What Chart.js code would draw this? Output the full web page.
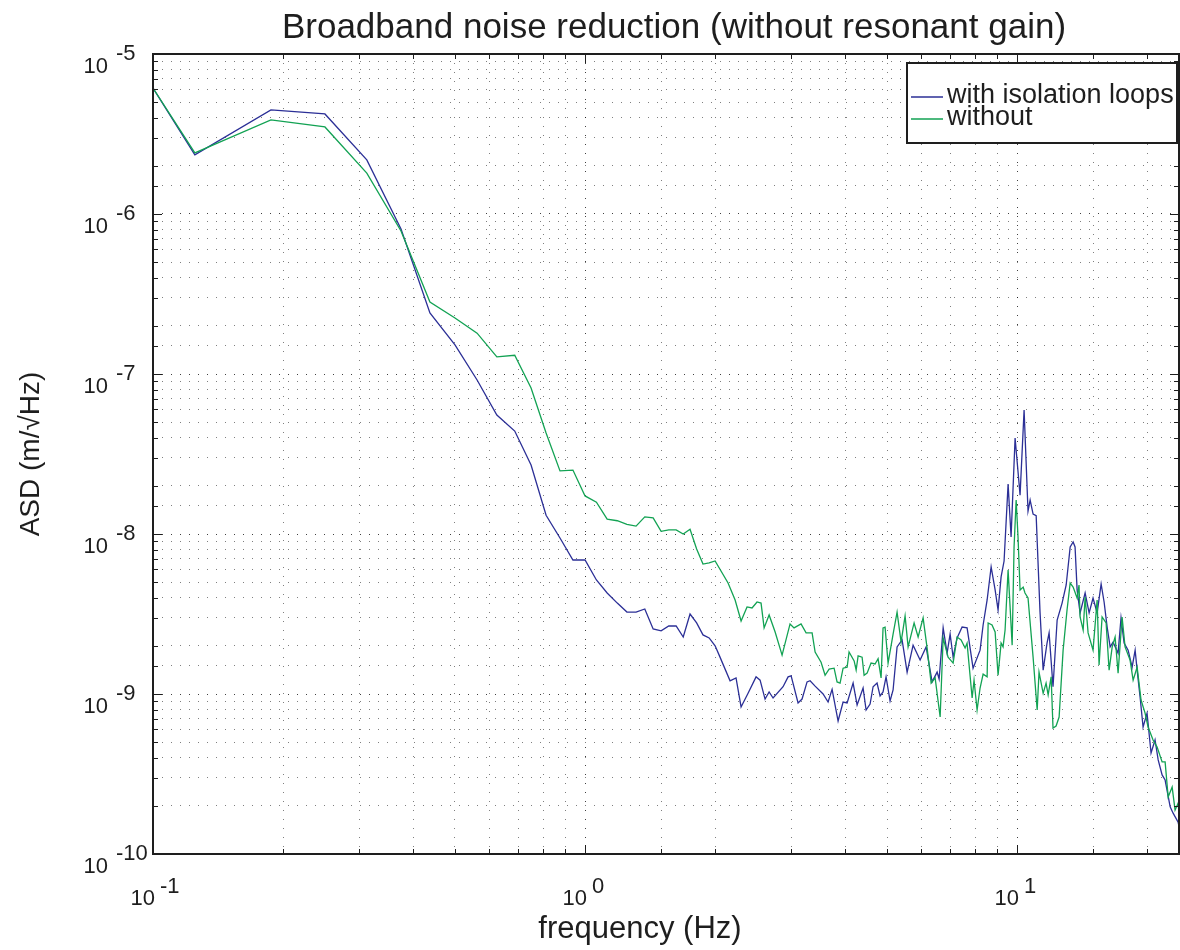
<!DOCTYPE html>
<html>
<head>
<meta charset="utf-8">
<title>Broadband noise reduction</title>
<script src="https://cdn.jsdelivr.net/npm/chart.js@4.4.0/dist/chart.umd.min.js"></script>
<style>
  html, body { margin: 0; padding: 0; background: #fff; }
</style>
</head>
<body>
<canvas id="asdChart" width="1180" height="950"></canvas>
<script>
// Frequency (Hz) and ASD (m/rtHz), per trace
var freqWith = [0.1, 0.125, 0.1875, 0.25, 0.3125, 0.375, 0.4375, 0.5, 0.5625, 0.625, 0.6875, 0.75, 0.8125, 0.875, 0.9375, 1.0,
  1.0625, 1.125, 1.1875, 1.25, 1.3125, 1.375, 1.4375, 1.5, 1.5625, 1.625, 1.6875, 1.75, 1.8125, 1.875, 1.9375, 2.0,
  2.053, 2.166, 2.236, 2.297, 2.384, 2.488, 2.542, 2.610, 2.667, 2.724, 2.873, 2.951, 2.999, 3.112, 3.179, 3.265,
  3.318, 3.408, 3.556, 3.652, 3.731, 3.852, 3.956, 4.042, 4.173, 4.263, 4.401, 4.472, 4.568, 4.642, 4.741, 4.818,
  4.895, 4.974, 5.082, 5.164, 5.275, 5.418, 5.565, 5.745, 5.964, 6.158, 6.358, 6.530, 6.600, 6.743, 6.887, 6.998,
  7.111, 7.263, 7.460, 7.661, 7.909, 8.21, 8.344, 8.524, 8.708, 8.895, 9.036, 9.183, 9.330, 9.532, 9.685, 9.894,
  10.16, 10.38, 10.60, 10.72, 10.89, 11.07, 11.30, 11.49, 11.73, 11.86, 12.11, 12.38, 12.71, 12.99, 13.27, 13.48,
  13.62, 13.77, 13.99, 14.37, 14.68, 14.99, 15.32, 15.65, 15.90, 16.16, 16.42, 16.68, 17.13, 17.40, 17.69, 18.07,
  18.46, 18.76, 18.96, 19.26, 19.57, 19.99, 20.42, 20.86, 21.21, 21.66, 22.01, 22.61, 22.97, 23.59, 23.84];
var asdWith = [6.13e-6, 2.34e-6, 4.47e-6, 4.22e-6, 2.18e-6, 8.06e-7, 2.41e-7, 1.52e-7, 9.17e-8, 5.54e-8, 4.40e-8, 2.70e-8, 1.31e-8, 9.44e-9, 6.88e-9, 6.88e-9,
  5.16e-9, 4.28e-9, 3.70e-9, 3.25e-9, 3.25e-9, 3.40e-9, 2.55e-9, 2.48e-9, 2.66e-9, 2.66e-9, 2.27e-9, 3.16e-9, 2.78e-9, 2.34e-9, 2.24e-9, 2.0e-9,
  1.70e-9, 1.21e-9, 1.26e-9, 8.30e-10, 1.01e-9, 1.28e-9, 1.22e-9, 9.30e-10, 1.03e-9, 9.44e-10, 1.11e-9, 1.28e-9, 1.30e-9, 8.79e-10, 9.30e-10, 1.19e-9,
  1.21e-9, 1.12e-9, 1.0e-9, 8.91e-10, 1.07e-9, 6.78e-10, 8.91e-10, 8.79e-10, 1.17e-9, 8.53e-10, 1.09e-9, 7.94e-10, 8.66e-10, 1.11e-9, 1.17e-9, 9.72e-10,
  1.03e-9, 1.28e-9, 9.04e-10, 1.06e-9, 1.97e-9, 2.18e-9, 1.37e-9, 2.02e-9, 1.63e-9, 1.97e-9, 1.19e-9, 1.37e-9, 1.24e-9, 2.59e-9, 1.80e-9, 2.37e-9,
  1.70e-9, 2.24e-9, 2.62e-9, 2.59e-9, 1.45e-9, 1.88e-9, 2.70e-9, 3.87e-9, 6.22e-9, 4.47e-9, 3.35e-9, 5.39e-9, 6.78e-9, 2.05e-8, 9.57e-9, 3.98e-8,
  1.75e-8, 5.96e-8, 1.39e-8, 1.63e-8, 1.33e-8, 1.30e-8, 3.25e-9, 1.41e-9, 2.08e-9, 2.41e-9, 1.11e-9, 2.90e-9, 3.70e-9, 4.80e-9, 8.30e-9, 8.91e-9,
  8.30e-9, 4.47e-9, 3.21e-9, 4.28e-9, 3.21e-9, 3.98e-9, 3.21e-9, 4.87e-9, 3.76e-9, 2.62e-9, 1.97e-9, 2.11e-9, 1.80e-9, 2.99e-9, 2.08e-9, 1.88e-9,
  1.47e-9, 1.88e-9, 1.41e-9, 9.58e-10, 6.22e-10, 7.60e-10, 4.28e-10, 5.16e-10, 3.87e-10, 3.12e-10, 2.90e-10, 1.97e-10, 1.80e-10, 1.58e-10, 1.37e-10];

var freqWithout = [0.1, 0.125, 0.1875, 0.25, 0.3125, 0.375, 0.4375, 0.5, 0.5625, 0.625, 0.6875, 0.75, 0.8125, 0.875, 0.9375, 1.0,
  1.0625, 1.125, 1.1875, 1.25, 1.3125, 1.375, 1.4375, 1.5, 1.5625, 1.625, 1.6875, 1.75, 1.8125, 1.875, 1.9375, 2.0,
  2.143, 2.225, 2.297, 2.371, 2.435, 2.501, 2.555, 2.597, 2.667, 2.754, 2.858, 2.982, 3.046, 3.162, 3.248, 3.354,
  3.408, 3.518, 3.594, 3.672, 3.771, 3.831, 3.893, 3.956, 4.042, 4.084, 4.196, 4.241, 4.286, 4.378, 4.425, 4.496,
  4.592, 4.691, 4.767, 4.844, 4.895, 4.948, 5.028, 5.164, 5.275, 5.389, 5.505, 5.594, 5.776, 5.901, 6.06, 6.19,
  6.325, 6.461, 6.636, 6.743, 6.923, 7.111, 7.263, 7.42, 7.58, 7.66, 7.87, 7.95, 8.08, 8.21, 8.344, 8.524,
  8.57, 8.75, 8.895, 9.036, 9.183, 9.28, 9.38, 9.532, 9.74, 9.84, 9.95, 10.05, 10.16, 10.33, 10.43, 10.60,
  10.89, 11.13, 11.24, 11.49, 11.67, 11.80, 11.99, 12.11, 12.31, 12.51, 12.78, 13.05, 13.27, 13.48, 13.77, 13.91,
  13.99, 14.22, 14.37, 14.60, 14.99, 15.32, 15.48, 15.73, 16.07, 16.33, 16.60, 16.86, 17.13, 17.50, 17.78, 18.26,
  18.56, 18.96, 19.36, 19.78, 20.10, 20.64, 21.09, 21.66, 22.01, 22.37, 22.85, 23.21, 23.59, 23.84];
var asdWithout = [6.13e-6, 2.41e-6, 3.87e-6, 3.50e-6, 1.80e-6, 7.83e-7, 2.82e-7, 2.24e-7, 1.80e-7, 1.28e-7, 1.31e-7, 8.18e-8, 4.28e-8, 2.48e-8, 2.51e-8, 1.73e-8,
  1.58e-8, 1.24e-8, 1.21e-8, 1.15e-8, 1.12e-8, 1.28e-8, 1.26e-8, 1.04e-8, 1.06e-8, 1.06e-8, 1.0e-8, 1.07e-8, 8.05e-9, 6.49e-9, 6.59e-9, 6.78e-9,
  4.94e-9, 3.87e-9, 2.86e-9, 3.50e-9, 3.45e-9, 3.76e-9, 3.70e-9, 2.59e-9, 3.12e-9, 2.44e-9, 1.75e-9, 2.74e-9, 2.59e-9, 2.74e-9, 2.41e-9, 2.41e-9,
  1.83e-9, 1.58e-9, 1.31e-9, 1.43e-9, 1.45e-9, 1.19e-9, 1.17e-9, 1.45e-9, 1.47e-9, 1.83e-9, 1.61e-9, 1.41e-9, 1.73e-9, 1.70e-9, 1.31e-9, 1.35e-9,
  1.56e-9, 1.54e-9, 1.66e-9, 1.26e-9, 2.59e-9, 2.62e-9, 1.56e-9, 2.37e-9, 3.25e-9, 2.11e-9, 3.07e-9, 1.97e-9, 2.78e-9, 2.27e-9, 2.99e-9, 1.94e-9,
  1.17e-9, 1.26e-9, 7.18e-10, 2.24e-9, 1.70e-9, 1.56e-9, 2.27e-9, 2.18e-9, 1.94e-9, 2.08e-9, 9.44e-10, 1.22e-9, 7.94e-10, 1.09e-9, 1.33e-9, 1.28e-9,
  2.78e-9, 2.70e-9, 2.44e-9, 1.31e-9, 2.08e-9, 1.97e-9, 2.51e-9, 5.96e-9, 2.02e-9, 8.30e-9, 1.63e-8, 9.57e-9, 4.47e-9, 4.66e-9, 4.28e-9, 3.98e-9,
  1.70e-9, 7.94e-10, 1.37e-9, 1.01e-9, 1.17e-9, 9.86e-10, 1.28e-9, 6.13e-10, 6.31e-10, 7.18e-10, 1.88e-9, 3.35e-9, 4.94e-9, 4.66e-9, 3.98e-9, 4.80e-9,
  3.03e-9, 2.51e-9, 4.04e-9, 2.41e-9, 1.88e-9, 3.87e-9, 1.52e-9, 3.03e-9, 2.78e-9, 1.41e-9, 1.97e-9, 2.27e-9, 1.35e-9, 3.03e-9, 1.97e-9, 1.63e-9,
  1.22e-9, 1.47e-9, 9.17e-10, 7.60e-10, 6.22e-10, 5.16e-10, 4.66e-10, 3.76e-10, 3.76e-10, 2.27e-10, 2.62e-10, 1.88e-10, 2.08e-10, 1.52e-10];

var seriesNames = ['with isolation loops', 'without'];
var seriesColors = ['#2b2f96', '#12a253'];

// decade exponents that get a "10^n" label
var xTickExps = [-1, 0, 1];
var yTickExps = [-10, -9, -8, -7, -6, -5];

var chartTitle = 'Broadband noise reduction (without resonant gain)';
var xTitle = 'frequency (Hz)';
var yTitle = 'ASD (m/√Hz)';

var fontFamily = '"Liberation Sans", Arial, Helvetica, sans-serif';
var inkColor = '#1e1e1e';

Chart.defaults.font.family = fontFamily;
Chart.defaults.color = inkColor;

function isDecade(v) {
  var e = Math.log10(v);
  return Math.abs(e - Math.round(e)) < 1e-6;
}

function toPoints(xs, ys) {
  return xs.map(function(f, i) {
    return { x: f, y: ys[i] };
  });
}

function gridColor(c) {
  return c.tick && isDecade(c.tick.value) ? 'rgba(0,0,0,0.75)' : 'rgba(0,0,0,0.5)';
}

// MATLAB-like box, inner ticks, 10^n labels, titles and legend
var matlabAxes = {
  id: 'matlabAxes',
  afterDraw: function(chart) {
    var ctx = chart.ctx;
    var area = chart.chartArea;
    var xs = chart.scales.x;
    var ys = chart.scales.y;
    var midX = (area.left + area.right) / 2;

    ctx.save();
    ctx.strokeStyle = inkColor;
    ctx.lineWidth = 1;
    ctx.beginPath();
    xs.ticks.forEach(function(t) {
      var len = isDecade(t.value) ? 9 : 5;
      var px = Math.round(xs.getPixelForValue(t.value)) + 0.5;
      ctx.moveTo(px, area.bottom); ctx.lineTo(px, area.bottom - len);
      ctx.moveTo(px, area.top); ctx.lineTo(px, area.top + len);
    });
    ys.ticks.forEach(function(t) {
      var len = isDecade(t.value) ? 9 : 5;
      var py = Math.round(ys.getPixelForValue(t.value)) + 0.5;
      ctx.moveTo(area.left, py); ctx.lineTo(area.left + len, py);
      ctx.moveTo(area.right, py); ctx.lineTo(area.right - len, py);
    });
    ctx.stroke();

    ctx.lineWidth = 2;
    ctx.strokeRect(area.left, area.top, area.right - area.left, area.bottom - area.top);

    // tick labels
    ctx.fillStyle = inkColor;
    ctx.font = '22px ' + fontFamily;
    ctx.textBaseline = 'alphabetic';
    yTickExps.forEach(function(e) {
      var py = ys.getPixelForValue(Math.pow(10, e));
      ctx.textAlign = 'right';
      ctx.fillText('10', area.left - 45, py + 19);
      ctx.textAlign = 'left';
      ctx.fillText(String(e), area.left - 37, py + 6);
    });
    xTickExps.forEach(function(e) {
      var px = xs.getPixelForValue(Math.pow(10, e));
      ctx.textAlign = 'right';
      ctx.fillText('10', px + 2, area.bottom + 51);
      ctx.textAlign = 'left';
      ctx.fillText(String(e), px + 7, area.bottom + 39);
    });

    // titles
    ctx.textAlign = 'center';
    ctx.textBaseline = 'middle';
    ctx.font = '35px ' + fontFamily;
    ctx.fillText(chartTitle, midX + 8, 28);
    ctx.font = '31px ' + fontFamily;
    ctx.fillText(xTitle, midX - 26, 929);
    ctx.save();
    ctx.translate(31, (area.top + area.bottom) / 2);
    ctx.rotate(-Math.PI / 2);
    ctx.font = '28px ' + fontFamily;
    ctx.fillText(yTitle, 0, 0);
    ctx.restore();

    // legend box, top right inside the axes
    var bx = area.right - 272, by = area.top + 9, bw = 270, bh = 80;
    ctx.textBaseline = 'alphabetic';
    ctx.fillStyle = '#fff';
    ctx.fillRect(bx, by, bw, bh);
    ctx.lineWidth = 2;
    ctx.strokeStyle = inkColor;
    ctx.strokeRect(bx, by, bw, bh);
    ctx.font = '27px ' + fontFamily;
    ctx.textAlign = 'left';
    chart.data.datasets.forEach(function(ds, i) {
      var ly = by + 34 + i * 22;
      ctx.strokeStyle = ds.borderColor;
      ctx.lineWidth = 1.5;
      ctx.beginPath();
      ctx.moveTo(bx + 4, ly);
      ctx.lineTo(bx + 36, ly);
      ctx.stroke();
      ctx.fillStyle = inkColor;
      ctx.fillText(ds.label, bx + 40, ly + 6);
    });
    ctx.restore();
  }
};

var ctx = document.getElementById('asdChart').getContext('2d');
var asdChart = new Chart(ctx, {
  type: 'line',
  data: {
    datasets: [{
      label: seriesNames[0],
      data: toPoints(freqWith, asdWith),
      borderColor: seriesColors[0],
      borderWidth: 1.3,
      pointRadius: 0,
      tension: 0,
      order: 1
    }, {
      label: seriesNames[1],
      data: toPoints(freqWithout, asdWithout),
      borderColor: seriesColors[1],
      borderWidth: 1.3,
      pointRadius: 0,
      tension: 0,
      order: 0
    }]
  },
  options: {
    responsive: false,
    devicePixelRatio: 1,
    animation: false,
    layout: { padding: { left: 0, right: 1, top: 54, bottom: 0 } },
    plugins: {
      legend: { display: false },
      tooltip: { enabled: false },
      title: { display: false }
    },
    scales: {
      x: {
        type: 'logarithmic',
        min: 0.1,
        max: 23.7,
        ticks: { display: false },
        grid: { color: gridColor, lineWidth: 1, drawTicks: false },
        border: { display: false, dash: [1, 8] },
        afterFit: function(scale) { scale.height = 96; }
      },
      y: {
        type: 'logarithmic',
        min: 1e-10,
        max: 1e-5,
        ticks: { display: false },
        grid: { color: gridColor, lineWidth: 1, drawTicks: false },
        border: { display: false, dash: [1, 8] },
        afterFit: function(scale) { scale.width = 153; }
      }
    }
  },
  plugins: [matlabAxes]
});
</script>
</body>
</html>
